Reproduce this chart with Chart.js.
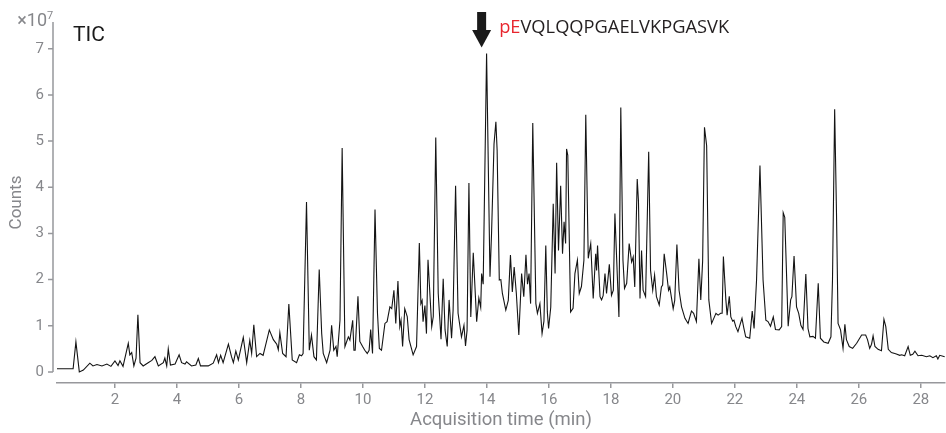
<!DOCTYPE html>
<html>
<head>
<meta charset="utf-8">
<script src="https://cdn.jsdelivr.net/npm/chart.js@4.4.0/dist/chart.umd.min.js"></script>
<style>
    html, body { margin: 0; padding: 0; background: #fff; }
    #wrap { width: 946px; height: 433px; position: relative; }
</style>
</head>
<body>
<div id="wrap"><canvas id="tic-chart"></canvas></div>
<script>
// retention time, min
const times = [
    0.13, 0.42, 0.65, 0.74, 0.85, 0.98, 1.19, 1.29, 1.42, 1.58,
    1.74, 1.87, 2.00, 2.10, 2.16, 2.26, 2.38, 2.43, 2.48, 2.54,
    2.61, 2.68, 2.74, 2.81, 2.91, 3.07, 3.19, 3.29, 3.40, 3.56,
    3.61, 3.67, 3.72, 3.79, 3.94, 4.07, 4.15, 4.26, 4.31, 4.47,
    4.61, 4.69, 4.76, 5.01, 5.17, 5.28, 5.34, 5.41, 5.49, 5.66,
    5.76, 5.82, 5.90, 5.98, 6.14, 6.25, 6.35, 6.41, 6.48, 6.57,
    6.68, 6.78, 6.98, 7.11, 7.22, 7.27, 7.32, 7.41, 7.52, 7.61,
    7.72, 7.86, 7.95, 8.02, 8.07, 8.18, 8.27, 8.34, 8.42, 8.50,
    8.59, 8.67, 8.72, 8.83, 8.94, 8.99, 9.06, 9.13, 9.17, 9.26,
    9.33, 9.42, 9.53, 9.58, 9.67, 9.71, 9.75, 9.84, 9.90, 9.99,
    10.06, 10.14, 10.20, 10.25, 10.31, 10.39, 10.47, 10.53, 10.60, 10.71,
    10.78, 10.87, 10.93, 11.00, 11.06, 11.13, 11.19, 11.23, 11.28, 11.35,
    11.43, 11.49, 11.62, 11.73, 11.82, 11.87, 11.91, 11.94, 12.00, 12.05,
    12.10, 12.16, 12.22, 12.27, 12.35, 12.43, 12.52, 12.59, 12.65, 12.72,
    12.78, 12.86, 12.91, 12.99, 13.07, 13.18, 13.26, 13.31, 13.36, 13.42,
    13.48, 13.56, 13.67, 13.74, 13.80, 13.83, 13.88, 13.99, 14.10, 14.15,
    14.23, 14.29, 14.33, 14.40, 14.45, 14.50, 14.61, 14.69, 14.76, 14.82,
    14.88, 14.95, 15.03, 15.12, 15.19, 15.26, 15.31, 15.36, 15.41, 15.48,
    15.58, 15.63, 15.71, 15.78, 15.84, 15.90, 15.95, 15.99, 16.06, 16.14,
    16.20, 16.25, 16.31, 16.38, 16.44, 16.49, 16.54, 16.57, 16.61, 16.70,
    16.78, 16.84, 16.92, 16.98, 17.05, 17.13, 17.19, 17.27, 17.35, 17.43,
    17.51, 17.54, 17.57, 17.65, 17.70, 17.75, 17.81, 17.86, 17.95, 18.02,
    18.08, 18.13, 18.18, 18.26, 18.32, 18.39, 18.44, 18.51, 18.59, 18.67,
    18.72, 18.77, 18.85, 18.89, 18.94, 18.99, 19.04, 19.12, 19.22, 19.28,
    19.35, 19.41, 19.47, 19.56, 19.63, 19.67, 19.72, 19.80, 19.86, 19.90,
    20.01, 20.06, 20.13, 20.20, 20.28, 20.39, 20.49, 20.60, 20.67, 20.76,
    20.84, 20.90, 20.96, 21.02, 21.09, 21.16, 21.25, 21.32, 21.39, 21.46,
    21.54, 21.59, 21.63, 21.71, 21.75, 21.82, 21.87, 21.93, 21.97, 22.03,
    22.10, 22.18, 22.23, 22.29, 22.35, 22.48, 22.56, 22.62, 22.70, 22.81,
    22.91, 23.00, 23.07, 23.15, 23.24, 23.31, 23.43, 23.51, 23.56, 23.61,
    23.72, 23.80, 23.84, 23.91, 23.99, 24.06, 24.13, 24.20, 24.29, 24.36,
    24.42, 24.52, 24.60, 24.69, 24.76, 24.87, 25.01, 25.10, 25.15, 25.22,
    25.28, 25.33, 25.41, 25.49, 25.55, 25.60, 25.69, 25.80, 25.93, 26.09,
    26.22, 26.28, 26.35, 26.41, 26.46, 26.52, 26.62, 26.73, 26.81, 26.87,
    26.95, 27.05, 27.16, 27.21, 27.32, 27.38, 27.48, 27.59, 27.66, 27.74,
    27.81, 27.91, 28.03, 28.18, 28.29, 28.39, 28.50, 28.55, 28.61, 28.77
];

// TIC counts, x10^7
const counts = [
    0.07, 0.07, 0.07, 0.65, 0.00, 0.04, 0.19, 0.13, 0.16, 0.13,
    0.17, 0.12, 0.24, 0.14, 0.24, 0.12, 0.47, 0.62, 0.37, 0.42,
    0.13, 0.30, 1.24, 0.20, 0.13, 0.20, 0.25, 0.33, 0.13, 0.20,
    0.30, 0.13, 0.50, 0.15, 0.17, 0.37, 0.20, 0.17, 0.22, 0.13,
    0.15, 0.29, 0.13, 0.13, 0.19, 0.37, 0.20, 0.36, 0.20, 0.60,
    0.33, 0.20, 0.45, 0.26, 0.75, 0.20, 0.68, 0.40, 1.02, 0.33,
    0.40, 0.36, 0.91, 0.70, 0.60, 0.48, 0.85, 0.40, 0.33, 1.47,
    0.26, 0.20, 0.37, 0.35, 0.40, 3.68, 0.47, 0.80, 0.33, 0.26,
    2.22, 0.83, 0.40, 0.20, 0.47, 1.01, 0.47, 0.55, 0.33, 1.12,
    4.85, 0.55, 0.76, 0.69, 1.12, 0.47, 0.47, 1.64, 0.66, 0.55,
    0.47, 0.40, 0.47, 0.92, 0.40, 3.52, 1.27, 0.51, 0.47, 1.05,
    1.09, 1.41, 1.37, 1.77, 1.05, 1.97, 0.98, 1.12, 0.55, 1.37,
    1.20, 0.70, 0.37, 0.55, 2.79, 1.48, 1.55, 1.09, 1.44, 0.83,
    2.43, 1.70, 0.98, 1.20, 5.08, 1.70, 0.71, 2.02, 0.91, 0.55,
    1.56, 0.73, 1.34, 4.03, 1.27, 0.76, 1.01, 0.56, 0.90, 4.09,
    1.19, 2.58, 1.09, 1.60, 1.40, 2.13, 1.90, 6.90, 2.06, 3.00,
    4.94, 5.42, 4.80, 1.99, 2.00, 1.70, 1.34, 1.55, 2.53, 1.73,
    2.27, 1.70, 0.80, 2.13, 1.63, 2.54, 1.90, 2.13, 1.48, 5.39,
    1.48, 1.27, 1.48, 0.83, 1.10, 2.74, 1.30, 0.94, 1.40, 3.64,
    2.13, 4.53, 2.63, 4.03, 2.56, 3.25, 2.78, 4.83, 4.69, 1.30,
    1.38, 2.13, 2.42, 1.70, 1.85, 2.42, 5.57, 2.46, 2.78, 1.59,
    2.56, 2.20, 2.74, 1.63, 1.56, 1.65, 2.13, 1.70, 2.33, 1.66,
    1.77, 3.43, 2.56, 1.19, 5.73, 2.42, 1.81, 1.92, 2.78, 2.38,
    2.49, 1.84, 4.18, 3.70, 1.59, 2.63, 1.77, 1.63, 4.77, 2.20,
    1.77, 2.10, 1.63, 1.45, 1.84, 1.88, 2.56, 2.13, 1.77, 1.84,
    1.37, 1.55, 2.76, 1.77, 1.41, 1.16, 1.05, 1.32, 1.27, 1.09,
    2.45, 1.56, 2.40, 5.30, 4.90, 1.56, 1.05, 1.16, 1.27, 1.23,
    1.27, 1.27, 2.50, 1.56, 1.23, 1.64, 1.19, 1.10, 1.12, 0.98,
    0.87, 1.05, 1.16, 0.95, 0.76, 0.73, 1.32, 0.94, 1.99, 4.47,
    1.99, 1.12, 1.09, 0.99, 1.19, 0.92, 0.91, 0.98, 3.45, 3.35,
    0.99, 1.56, 1.63, 2.51, 1.41, 1.27, 1.01, 0.92, 2.12, 0.94,
    0.76, 0.77, 0.73, 1.92, 0.73, 0.65, 0.62, 0.76, 1.99, 5.69,
    3.40, 1.05, 0.91, 0.51, 1.03, 0.70, 0.55, 0.51, 0.62, 0.80,
    0.80, 0.70, 0.51, 0.60, 0.78, 0.55, 0.49, 0.46, 1.14, 0.98,
    0.49, 0.42, 0.40, 0.39, 0.36, 0.37, 0.35, 0.55, 0.36, 0.38,
    0.45, 0.35, 0.36, 0.33, 0.35, 0.31, 0.35, 0.28, 0.36, 0.33
];

const xTicks = [2, 4, 6, 8, 10, 12, 14, 16, 18, 20, 22, 24, 26, 28];
const yTicks = [0, 1, 2, 3, 4, 5, 6, 7];

const traceName = 'TIC';
const peptideMod = 'pE';
const peptideRest = 'VQLQQPGAELVKPGASVK';
const arrowTime = 13.83;

const textGrey = '#86878b';
const axisGrey = '#97989c';

// y axis line sits a little left of the plot, ends at zero; plus labels and arrow
const overlayPlugin = {
    id: 'overlay',
    afterDraw(chart) {
        const { ctx, chartArea, scales: { x, y } } = chart;
        const ax = chartArea.left - 4;
        ctx.save();

        ctx.strokeStyle = axisGrey;
        ctx.lineWidth = 1.5;
        ctx.beginPath();
        ctx.moveTo(ax, chartArea.top);
        ctx.lineTo(ax, y.getPixelForValue(0));
        yTicks.forEach(v => {
            const py = y.getPixelForValue(v);
            ctx.moveTo(ax - 5, py);
            ctx.lineTo(ax, py);
        });
        ctx.stroke();

        // x10^7 multiplier
        ctx.fillStyle = textGrey;
        ctx.textBaseline = 'alphabetic';
        ctx.textAlign = 'right';
        ctx.font = '18px Roboto';
        ctx.fillText('\u00d710', 47, 26);
        ctx.textAlign = 'left';
        ctx.font = '11px Roboto';
        ctx.fillText('7', 47, 19);

        // trace name
        ctx.fillStyle = '#1a1a1a';
        ctx.font = '21px Roboto';
        ctx.fillText(traceName, 73, 41);

        // arrow on the main peak
        const px = x.getPixelForValue(arrowTime);
        ctx.fillStyle = '#1a1a1a';
        ctx.fillRect(px - 4.5, 12, 9, 19);
        ctx.beginPath();
        ctx.moveTo(px - 9.5, 30);
        ctx.lineTo(px + 9.5, 30);
        ctx.lineTo(px, 47.5);
        ctx.closePath();
        ctx.fill();

        ctx.font = '18.3px "Open Sans"';
        ctx.fillStyle = '#e8262e';
        const tx = px + 17.5;
        ctx.fillText(peptideMod, tx, 32.5);
        const w = ctx.measureText(peptideMod).width;
        ctx.fillStyle = '#231f20';
        ctx.fillText(peptideRest, tx + w, 32.5);

        ctx.restore();
    }
};

function renderChart() {
    const ctx = document.getElementById('tic-chart').getContext('2d');
    const points = times.map((t, i) => ({ x: t, y: counts[i] }));

    new Chart(ctx, {
        type: 'line',
        data: {
            datasets: [{
                label: traceName,
                data: points,
                borderColor: '#141414',
                borderWidth: 1.1,
                pointRadius: 0,
                tension: 0,
                fill: false
            }]
        },
        options: {
            responsive: true,
            maintainAspectRatio: false,
            animation: false,
            layout: { padding: { top: 21, right: 1, left: 0, bottom: 0 } },
            plugins: {
                legend: { display: false },
                tooltip: { enabled: false }
            },
            scales: {
                x: {
                    type: 'linear',
                    min: 0.13,
                    max: 28.78,
                    afterBuildTicks: s => { s.ticks = xTicks.map(v => ({ value: v })); },
                    afterFit: s => { s.height = 50; },
                    border: { display: true, color: axisGrey, width: 1.5 },
                    grid: { drawOnChartArea: false, drawTicks: true, tickLength: 5, color: axisGrey, lineWidth: 1.5 },
                    ticks: {
                        color: textGrey,
                        font: { family: 'Roboto', size: 15 },
                        padding: 3,
                        maxRotation: 0,
                        autoSkip: false
                    },
                    title: {
                        display: true,
                        text: 'Acquisition time (min)',
                        color: textGrey,
                        font: { family: 'Roboto', size: 18.5 },
                        padding: { top: 0, bottom: 2 }
                    }
                },
                y: {
                    min: -0.24,
                    max: 7.58,
                    afterBuildTicks: s => { s.ticks = yTicks.map(v => ({ value: v })); },
                    afterFit: s => { s.width = 57; },
                    border: { display: false },
                    grid: { display: false, drawTicks: false },
                    ticks: {
                        color: textGrey,
                        font: { family: 'Roboto', size: 15 },
                        padding: 13
                    },
                    title: {
                        display: true,
                        text: 'Counts',
                        color: textGrey,
                        font: { family: 'Roboto', size: 17 },
                        padding: { top: 7, bottom: 0 }
                    }
                }
            }
        },
        plugins: [overlayPlugin]
    });
}

document.addEventListener('DOMContentLoaded', renderChart);
</script>
</body>
</html>
